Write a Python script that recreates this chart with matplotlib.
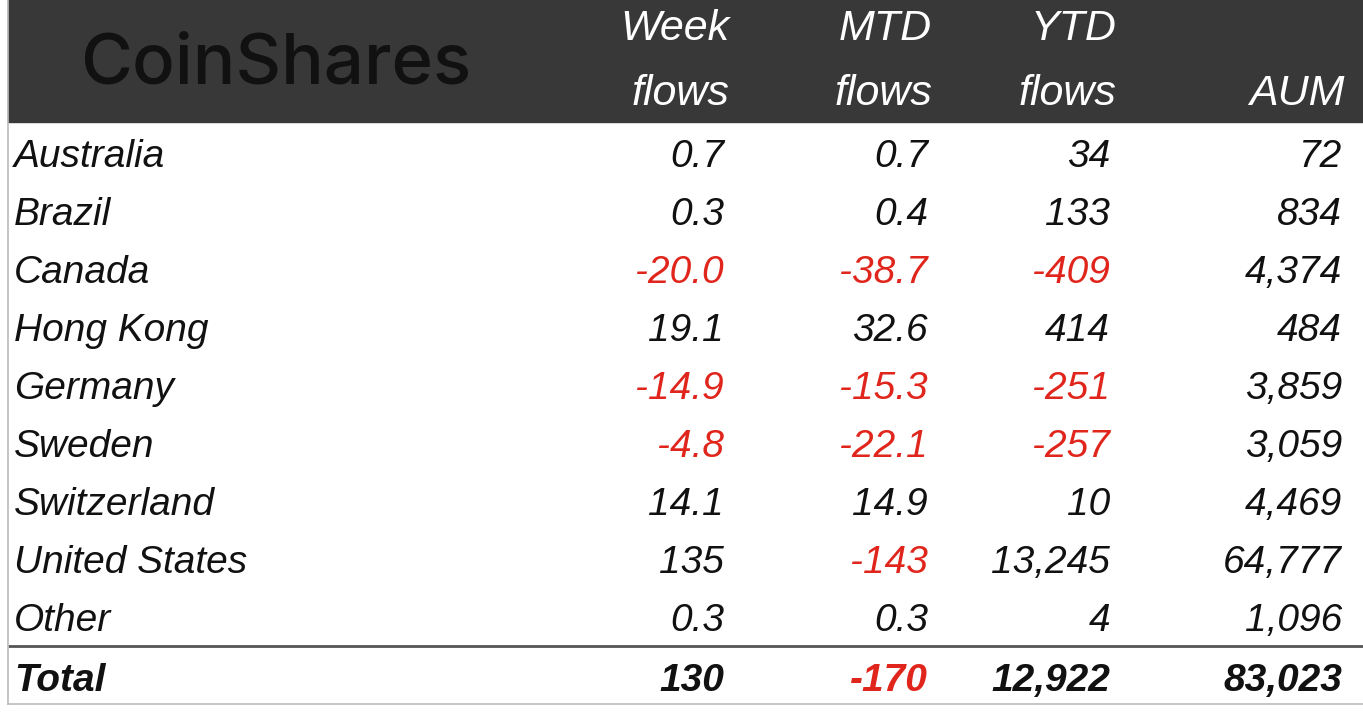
import matplotlib
matplotlib.use("Agg")
import matplotlib.pyplot as plt
from matplotlib.patches import Rectangle

# data (US$m)
countries = ["Australia", "Brazil", "Canada", "Hong Kong", "Germany",
             "Sweden", "Switzerland", "United States", "Other"]
week_flows = [0.7, 0.3, -20.0, 19.1, -14.9, -4.8, 14.1, 135, 0.3]
mtd_flows = [0.7, 0.4, -38.7, 32.6, -15.3, -22.1, 14.9, -143, 0.3]
ytd_flows = [34, 133, -409, 414, -251, -257, 10, 13245, 4]
aum = [72, 834, 4374, 484, 3859, 3059, 4469, 64777, 1096]
totals = [130, -170, 12922, 83023]
headers = [("Week", "flows"), ("MTD", "flows"), ("YTD", "flows"), ("", "AUM")]

RED = "#e0261c"
DARK = "#383838"
INK = "#111111"
FONT = "Liberation Sans"


def fmt_flow(v):
    if abs(v) >= 100:
        return f"{v:,.0f}"
    return f"{v:.1f}"


def fmt_int(v):
    return f"{v:,.0f}"


W, H = 1363, 713
fig = plt.figure(figsize=(W / 100, H / 100), dpi=100)
ax = fig.add_axes([0, 0, 1, 1])
ax.set_xlim(0, W)
ax.set_ylim(H, 0)
ax.axis("off")

# header band
ax.add_patch(Rectangle((8, 0), W - 8, 122, color=DARK, zorder=1))
ax.text(276, 84, "CoinShares", color=INK, fontsize=51, family="Inter",
        fontweight="medium", ha="center", va="baseline", zorder=2)

col_right = [724, 928, 1110, 1342]
head_right = [729, 932, 1116, 1345]
for (l1, l2), xr in zip(headers, head_right):
    if l1:
        ax.text(xr, 40, l1, color="white", fontsize=31, style="italic",
                family=FONT, ha="right", va="baseline")
    ax.text(xr, 105, l2, color="white", fontsize=31, style="italic",
            family=FONT, ha="right", va="baseline")

# body rows
base0, step = 167, 58
columns = [(week_flows, fmt_flow), (mtd_flows, fmt_flow),
           (ytd_flows, fmt_int), (aum, fmt_int)]
for i, name in enumerate(countries):
    y = base0 + i * step
    ax.text(14, y, name, fontsize=28, style="italic", family=FONT,
            ha="left", va="baseline", color=INK)
    for (vals, f), xr in zip(columns, col_right):
        v = vals[i]
        ax.text(xr, y, f(v), fontsize=28, style="italic", family=FONT,
                ha="right", va="baseline", color=RED if v < 0 else INK)

# total row
yt = 691
ax.text(14, yt, "Total", fontsize=28, style="italic", fontweight="bold",
        family=FONT, ha="left", va="baseline", color=INK)
fmts = [fmt_flow, fmt_flow, fmt_int, fmt_int]
for v, f, xr in zip(totals, fmts, col_right):
    ax.text(xr, yt, f(v), fontsize=28, style="italic", fontweight="bold",
            family=FONT, ha="right", va="baseline",
            color=RED if v < 0 else INK)

# lines
ax.plot([8, W], [646, 646], color="#555555", lw=2, solid_capstyle="butt")
ax.plot([7.5, 7.5], [0, 704], color="#bbbbbb", lw=1.2)
ax.plot([7.5, W], [704, 704], color="#bbbbbb", lw=1.2)

fig.savefig("out.png", dpi=100, facecolor="white")
